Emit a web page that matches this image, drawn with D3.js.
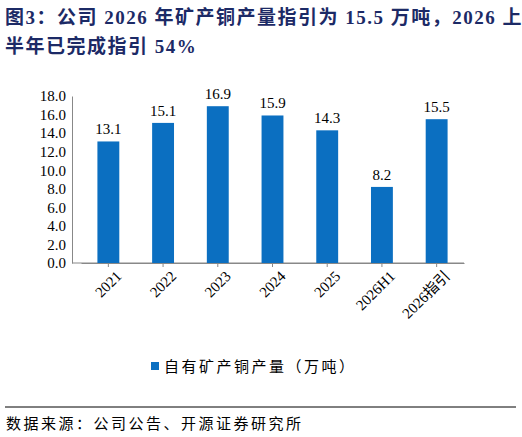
<!DOCTYPE html>
<html><head><meta charset="utf-8">
<script src="https://cdn.jsdelivr.net/npm/d3@7"></script>
<style>body{margin:0;background:#fff}</style>
</head><body>
<svg id="c" width="522" height="437"></svg>
<script>
// data
const categories = ["2021", "2022", "2023", "2024", "2025", "2026H1", "2026指引"]
const values = [13.1, 15.1, 16.9, 15.9, 14.3, 8.2, 15.5]
const yTicks = [0, 2, 4, 6, 8, 10, 12, 14, 16, 18]

const font = "'Liberation Serif', 'Noto Sans CJK SC', serif"
const svg = d3.select("#c")

// title
const title = svg.append("g").attr("fill", "#1c2a66").attr("font-weight", "bold")
  .attr("font-family", font).attr("font-size", 19).attr("letter-spacing", 1.5)
title.append("text").attr("x", 5).attr("y", 24).text("图3：公司 2026 年矿产铜产量指引为 15.5 万吨，2026 上")
title.append("text").attr("x", 5).attr("y", 53).text("半年已完成指引 54%")

const x = d3.scaleBand().domain(categories).range([81, 464]).paddingInner(0.6).paddingOuter(0.3)
const y = d3.scaleLinear().domain([0, 18]).range([263, 96])

svg.append("g").attr("transform", "translate(72,0)")
  .call(d3.axisLeft(y).tickValues(yTicks).tickFormat(d3.format(".1f")).tickSize(0).tickPadding(6))
  .call(g => g.select(".domain").attr("stroke", "#888"))
  .call(g => g.selectAll("text").attr("font-family", font).attr("font-size", 15).attr("fill", "#000"))

svg.append("line").attr("x1", 72).attr("x2", 464).attr("y1", 263).attr("y2", 263).attr("stroke", "#888")
svg.append("g").attr("transform", "translate(0,263)")
  .call(d3.axisBottom(x).tickSize(4).tickSizeOuter(0))
  .call(g => g.selectAll("line,.domain").attr("stroke", "#888"))
  .call(g => g.selectAll("text").attr("font-family", font).attr("font-size", 15).attr("fill", "#000")
    .attr("text-anchor", "end").attr("dy", "0.3em")
    .attr("transform", "translate(6,6) rotate(-45)"))

svg.append("g").selectAll("rect").data(values).join("rect")
  .attr("x", (d, i) => x(categories[i])).attr("width", x.bandwidth())
  .attr("y", d => y(d)).attr("height", d => y(0) - y(d))
  .attr("fill", "#0b6fc1")

svg.append("g").selectAll("text").data(values).join("text")
  .attr("x", (d, i) => x(categories[i]) + x.bandwidth() / 2).attr("y", d => y(d) - 7)
  .attr("text-anchor", "middle").attr("font-family", font).attr("font-size", 15)
  .text(d => d.toFixed(1))

// legend
svg.append("rect").attr("x", 151).attr("y", 362).attr("width", 8).attr("height", 8).attr("fill", "#0b6fc1")
svg.append("text").attr("x", 164).attr("y", 372).attr("font-family", font).attr("font-size", 15)
  .attr("letter-spacing", 2.5).text("自有矿产铜产量（万吨）")

svg.append("line").attr("x1", 5).attr("x2", 516).attr("y1", 407).attr("y2", 407).attr("stroke", "#000")
svg.append("text").attr("x", 6).attr("y", 429).attr("font-family", font).attr("font-size", 15)
  .attr("letter-spacing", 2.5).text("数据来源：公司公告、开源证券研究所")
</script>
</body></html>
